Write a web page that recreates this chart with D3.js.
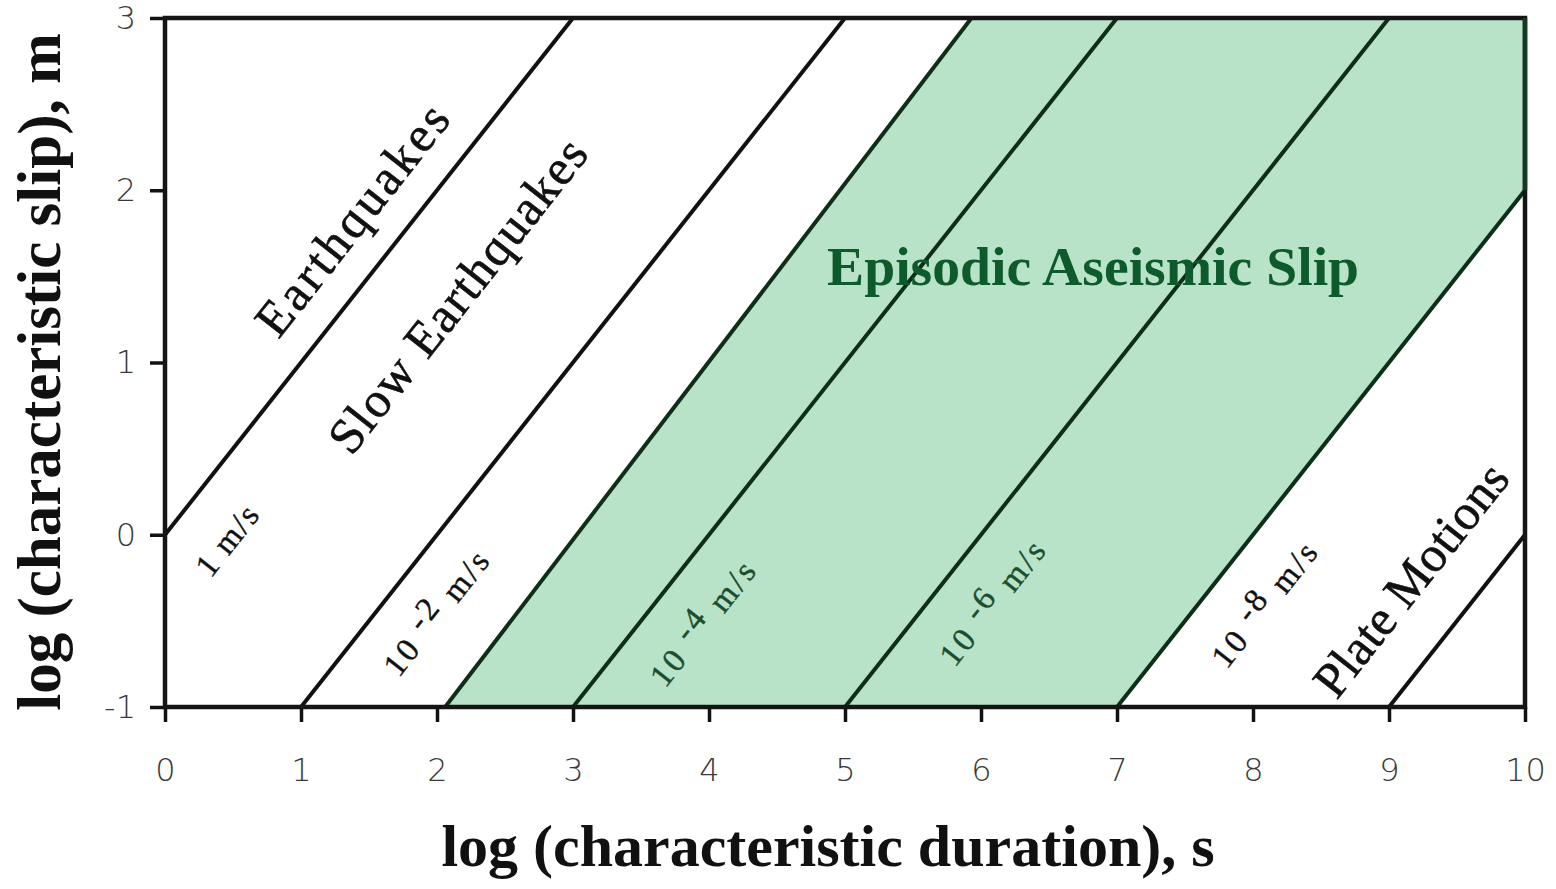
<!DOCTYPE html>
<html><head><meta charset="utf-8">
<script src="https://cdn.jsdelivr.net/npm/d3@7"></script>
<style>body{margin:0;background:#fff}</style>
</head><body><svg id="c" width="1556" height="889"></svg>
<script>
// ---- data ----
const xTicks = [0,1,2,3,4,5,6,7,8,9,10];
const yTicks = [-1,0,1,2,3];
// velocity lines: log slip = log duration + log v ; endpoints at log slip -1 and 3
const lineBottomX = [-1, 1, 3, 5, 7, 9];
const lineTopX    = [ 3, 5, 7, 9, 11, 13];
const lineInGreen = [false, false, true, true, true, false];
// episodic aseismic slip region (polygon)
const greenX = [2.06, 5.93, 10, 10, 7];
const greenY = [-1, 3, 3, 2, -1];
// velocity labels
const velExp   = ["", "-2", "-4", "-6", "-8"];
const velLabX  = [0.46, 2.0, 3.96, 6.09, 8.09];
const velLabY  = [-0.03, -0.45, -0.51, -0.39, -0.40];
const velGreen = [false, false, true, true, false];
// regime labels
const regimeNames = ["Earthquakes", "Slow Earthquakes", "Plate Motions"];
const regimeX = [1.375, 2.15, 9.16];
const regimeY = [1.83, 1.39, -0.26];
const regimeLen = [280, 385, 282];

const W = 1556, H = 889;
const svg = d3.select("#c");
const x = d3.scaleLinear().domain([0,10]).range([165,1525]);
const y = d3.scaleLinear().domain([-1,3]).range([707,18]);
const angle = -Math.atan2(y(0)-y(1), x(1)-x(0)) * 180/Math.PI;

svg.append("defs").append("clipPath").attr("id","pc")
  .append("rect").attr("x",x(0)).attr("y",y(3)).attr("width",x(10)-x(0)).attr("height",y(-1)-y(3));

const plot = svg.append("g").attr("clip-path","url(#pc)");
plot.append("path")
  .attr("d", d3.line()(greenX.map((d,i)=>[x(d), y(greenY[i])])) + "Z")
  .attr("fill","#b9e3c8");
// left boundary of green band
plot.append("line")
  .attr("x1",x(greenX[0])).attr("y1",y(greenY[0]))
  .attr("x2",x(greenX[1])).attr("y2",y(greenY[1]))
  .attr("stroke","#0f2e1a").attr("stroke-width",4);
plot.selectAll("line.v").data(lineBottomX).enter().append("line").attr("class","v")
  .attr("x1",(d)=>x(d)).attr("y1",y(-1))
  .attr("x2",(d,i)=>x(lineTopX[i])).attr("y2",y(3))
  .attr("stroke",(d,i)=>lineInGreen[i]?"#0f2e1a":"#111")
  .attr("stroke-width",4);

// axes
const xa = svg.append("g").attr("transform",`translate(0,${y(-1)})`)
  .call(d3.axisBottom(x).tickValues(xTicks).tickFormat(d=>d).tickSize(15).tickPadding(36));
const ya = svg.append("g").attr("transform",`translate(${x(0)},0)`)
  .call(d3.axisLeft(y).tickValues(yTicks).tickFormat(d=>d).tickSize(15).tickPadding(14));
[xa,ya].forEach(a=>{
  a.select(".domain").remove();
  a.selectAll(".tick line").attr("stroke","#111").attr("stroke-width",3.5);
  a.selectAll(".tick text").attr("font-family","DejaVu Sans").attr("font-size",32)
    .attr("fill","#3a3a3a").attr("font-weight","300");
});
// frame
svg.append("rect").attr("x",x(0)).attr("y",y(3)).attr("width",x(10)-x(0)).attr("height",y(-1)-y(3))
  .attr("fill","none").attr("stroke","#151515").attr("stroke-width",4.5);
svg.append("line").attr("x1",x(10)).attr("x2",x(10)).attr("y1",y(3)).attr("y2",y(2))
  .attr("stroke","#123a22").attr("stroke-width",4.5);

// axis titles
svg.append("text").attr("x",828).attr("y",866).attr("text-anchor","middle")
  .attr("font-family","Liberation Serif").attr("font-weight","bold").attr("font-size",60)
  .attr("fill","#111").text("log (characteristic duration), s");
svg.append("text").attr("transform","translate(60,372) rotate(-90)").attr("text-anchor","middle")
  .attr("font-family","Liberation Serif").attr("font-weight","bold").attr("font-size",61)
  .attr("fill","#111").text("log (characteristic slip), m");

// region label
svg.append("text").attr("x",x(6.824)).attr("y",285).attr("text-anchor","middle")
  .attr("font-family","Liberation Serif").attr("font-weight","bold").attr("font-size",54)
  .attr("fill","#0d5a2c").attr("textLength",532).attr("lengthAdjust","spacingAndGlyphs")
  .text("Episodic Aseismic Slip");

// regime labels
regimeNames.forEach((t,i)=>{
  svg.append("text")
    .attr("transform",`translate(${x(regimeX[i])},${y(regimeY[i])}) rotate(${angle})`)
    .attr("text-anchor","middle").attr("dominant-baseline","central")
    .attr("font-family","Liberation Serif").attr("font-size",50).attr("fill","#111")
    .attr("stroke","#111").attr("stroke-width",0.6)
    .attr("textLength",regimeLen[i]).attr("lengthAdjust","spacing")
    .text(t);
});

// velocity labels
velExp.forEach((e,i)=>{
  const t = svg.append("text")
    .attr("transform",`translate(${x(velLabX[i])},${y(velLabY[i])}) rotate(${angle})`)
    .attr("text-anchor","middle").attr("dominant-baseline","central")
    .attr("font-family","Liberation Serif").attr("font-size",33)
    .attr("letter-spacing", e ? 3 : 2)
    .attr("fill", velGreen[i] ? "#1b4d2e" : "#111")
    .attr("stroke", velGreen[i] ? "#1b4d2e" : "#111").attr("stroke-width",0.4);
  if (e) {
    t.append("tspan").text("10 ");
    t.append("tspan").attr("dy",-10).text(e);
    t.append("tspan").attr("dy",10).text(" m/s");
  } else {
    t.text("1 m/s");
  }
});
</script></body></html>
